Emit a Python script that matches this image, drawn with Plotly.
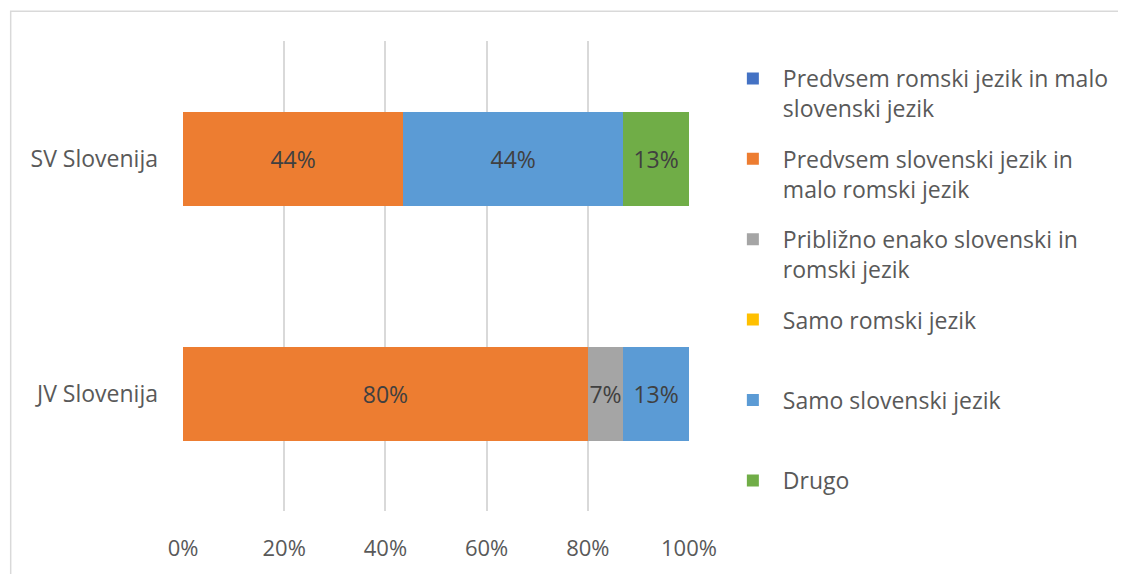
import plotly.graph_objects as go

categories = ["JV Slovenija", "SV Slovenija"]
series_names = [
    "Predvsem romski jezik in malo<br>slovenski jezik",
    "Predvsem slovenski jezik in<br>malo romski jezik",
    "Približno enako slovenski in<br>romski jezik",
    "Samo romski jezik<br> ",
    "Samo slovenski jezik<br> ",
    "Drugo",
]
# values in percent, order: [JV Slovenija, SV Slovenija]
predvsem_romski = [0, 0]
predvsem_slovenski = [80, 43.5]
priblizno_enako = [7, 0]
samo_romski = [0, 0]
samo_slovenski = [13, 43.5]
drugo = [0, 13]
series_values = [predvsem_romski, predvsem_slovenski, priblizno_enako,
                 samo_romski, samo_slovenski, drugo]
colors = ["#4472C4", "#ED7D31", "#A5A5A5", "#FFC000", "#5B9BD5", "#70AD47"]
tick_vals = [0, 20, 40, 60, 80, 100]
tick_text = ["0%", "20%", "40%", "60%", "80%", "100%"]

FONT = "Open Sans"
fig = go.Figure()
for i, (name, vals, col) in enumerate(zip(series_names, series_values, colors)):
    fig.add_trace(go.Bar(
        y=categories, x=vals, name=name, orientation="h",
        marker=dict(color=col, line=dict(width=0)),
        text=[f"{v:.0f}%" if v else "" for v in vals],
        textposition="inside", insidetextanchor="middle", textangle=0,
        textfont=dict(family=FONT, size=23, color="#404040"),
        legendgroup=f"g{i}",
        hoverinfo="skip",
    ))

OFF = 8  # page body margin
W, H = 1126 - OFF, 574 - OFF
L, R, T, B = 183 - OFF, 691 - OFF, 41 - OFF, 513 - OFF

def px_x(p):
    return (p - OFF - L) / (R - L)

def px_y(p):
    return (B - (p - OFF)) / (B - T)

fig.update_layout(
    width=W, height=H,
    barmode="stack", bargap=0.6,
    margin=dict(l=L, r=W - R, t=T, b=H - B, pad=0),
    paper_bgcolor="white", plot_bgcolor="white",
    font=dict(family=FONT, size=22, color="#595959"),
    uniformtext=dict(minsize=23, mode="show"),
    xaxis=dict(range=[0, 100], tickvals=tick_vals, ticktext=tick_text,
               showgrid=True, gridcolor="#d9d9d9", gridwidth=1.5,
               zeroline=False, showline=False, ticks="",
               ticklabelstandoff=22, fixedrange=True,
               tickfont=dict(family=FONT, size=22, color="#595959")),
    yaxis=dict(showgrid=False, zeroline=False, showline=False, ticks="",
               ticklabelstandoff=24, fixedrange=True,
               tickfont=dict(family=FONT, size=23, color="#595959")),
    legend=dict(x=px_x(725), y=px_y(57), xanchor="left", yanchor="top",
                traceorder="grouped", tracegroupgap=17.6, valign="top",
                itemwidth=50, maxheight=600,
                font=dict(family=FONT, size=23, color="#595959"),
                bgcolor="rgba(0,0,0,0)"),
    showlegend=True,
    shapes=[dict(type="rect", xref="paper", yref="paper",
                 x0=px_x(10), x1=px_x(1140), y0=px_y(11), y1=px_y(590),
                 line=dict(color="#d9d9d9", width=1.5), layer="below")],
)

fig.write_html("out.html")
